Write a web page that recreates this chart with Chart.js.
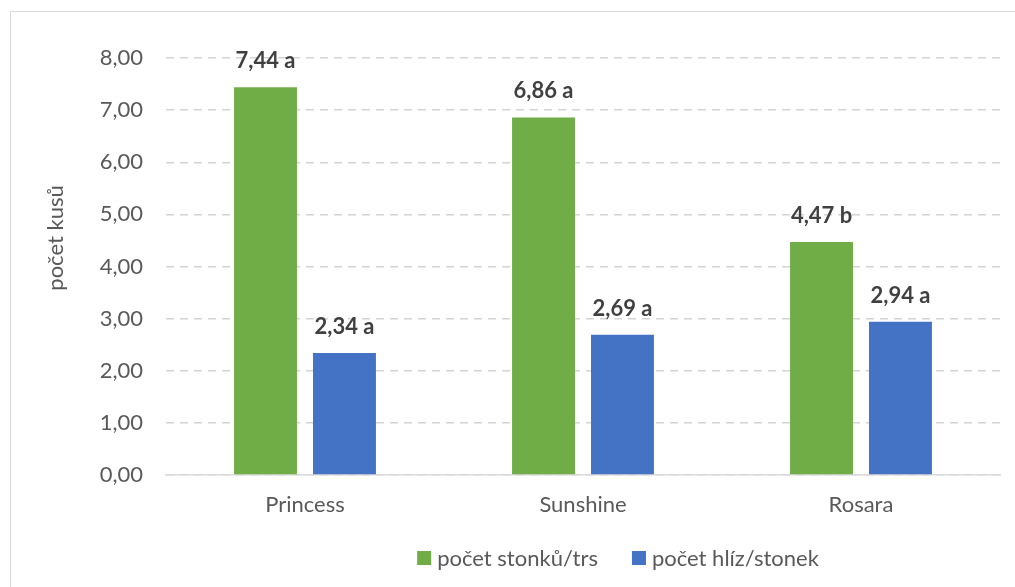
<!DOCTYPE html>
<html>
<head>
<meta charset="utf-8">
<script src="https://cdn.jsdelivr.net/npm/chart.js@4.4.0/dist/chart.umd.min.js"></script>
<style>
    html, body { margin: 0; padding: 0; background: #fff; overflow: hidden; }
    .frame { position: absolute; left: 10px; top: 11px; width: 1200px; height: 700px; border: 1px solid #d9d9d9; }
    .master { position: absolute; left: 0; top: 0; width: 1015px; height: 587px; }
</style>
</head>
<body>
<div class="frame"></div>
<div class="master"><canvas id="myChart"></canvas></div>
<script>
// data
const categories = ['Princess', 'Sunshine', 'Rosara'];
const stems_values = [7.44, 6.86, 4.47];
const stems_letters = ['a', 'a', 'b'];
const tubers_values = [2.34, 2.69, 2.94];
const tubers_letters = ['a', 'a', 'a'];
const series_names = ['počet stonků/trs', 'počet hlíz/stonek'];
const y_title = 'počet kusů';
const y_max = 8;

const FONT = 'Lato, Carlito, "Noto Sans", sans-serif';
const GREY = '#595959';

function fmt_num( v ) {
    // czech decimal comma
    return v.toFixed(2).replace('.', ',');
}

// draws labels over bars, the y title and the legend
const extras_plugin = {
    id: 'extras',
    afterDatasetsDraw(chart) {
        const ctx = chart.ctx;
        ctx.save();
        // value labels
        ctx.font = 'bold 22px ' + FONT;
        ctx.fillStyle = '#404040';
        ctx.textAlign = 'center';
        ctx.textBaseline = 'alphabetic';
        chart.data.datasets.forEach(function(ds, di) {
            let meta = chart.getDatasetMeta(di);
            meta.data.forEach(function(bar, i) {
                ctx.fillText(fmt_num(ds.data[i]) + ' ' + ds.letters[i], bar.x, bar.y - 19);
            });
        });
        // y axis title
        ctx.font = '22px ' + FONT;
        ctx.fillStyle = GREY;
        ctx.translate(56, 238);
        ctx.rotate(-Math.PI / 2);
        ctx.textBaseline = 'middle';
        ctx.fillText(y_title, 0, 0);
        ctx.restore();

        // legend
        ctx.save();
        ctx.font = '22px ' + FONT;
        ctx.textBaseline = 'middle';
        ctx.textAlign = 'left';
        let box = 14, gap = 6, spacing = 34;
        let total = 0;
        chart.data.datasets.forEach(function(ds, di) {
            total += box + gap + ctx.measureText(ds.label).width;
            if( di > 0 ) total += spacing;
        });
        let x = 618 - total / 2;
        let y = 558;
        chart.data.datasets.forEach(function(ds) {
            ctx.fillStyle = ds.backgroundColor;
            ctx.fillRect(x, y - box / 2, box, box);
            x += box + gap;
            ctx.fillStyle = GREY;
            ctx.fillText(ds.label, x, y + 1);
            x += ctx.measureText(ds.label).width + spacing;
        });
        ctx.restore();
    }
};

const data = {
    labels: categories,
    datasets: [{
        label: series_names[0],
        data: stems_values,
        letters: stems_letters,
        backgroundColor: '#70AD47',
        categoryPercentage: 0.568,
        barPercentage: 0.797
    }, {
        label: series_names[1],
        data: tubers_values,
        letters: tubers_letters,
        backgroundColor: '#4472C4',
        categoryPercentage: 0.568,
        barPercentage: 0.797
    }]
};

const config = {
    type: 'bar',
    data: data,
    options: {
        responsive: true,
        maintainAspectRatio: false,
        animation: false,
        layout: { padding: { left: 0, top: 58, right: 15, bottom: 62 } },
        plugins: {
            legend: { display: false },
            tooltip: { enabled: false }
        },
        scales: {
            x: {
                grid: { display: false, drawTicks: false },
                border: { display: true, color: '#d9d9d9', width: 1.5 },
                ticks: { color: GREY, font: { family: FONT, size: 22 }, padding: 17 },
                afterFit: function(scale) { scale.height = 50; }
            },
            y: {
                min: 0,
                max: y_max,
                ticks: {
                    stepSize: 1,
                    color: GREY,
                    font: { family: FONT, size: 22 },
                    padding: 23,
                    callback: function(v) { return fmt_num(v); }
                },
                grid: { color: '#d4d4d4', lineWidth: 1.5, drawTicks: false },
                border: { display: false, dash: [8, 6] },
                afterFit: function(scale) { scale.width = 166; }
            }
        }
    },
    plugins: [extras_plugin]
};

const myChart = new Chart(document.getElementById('myChart'), config);
</script>
</body>
</html>
